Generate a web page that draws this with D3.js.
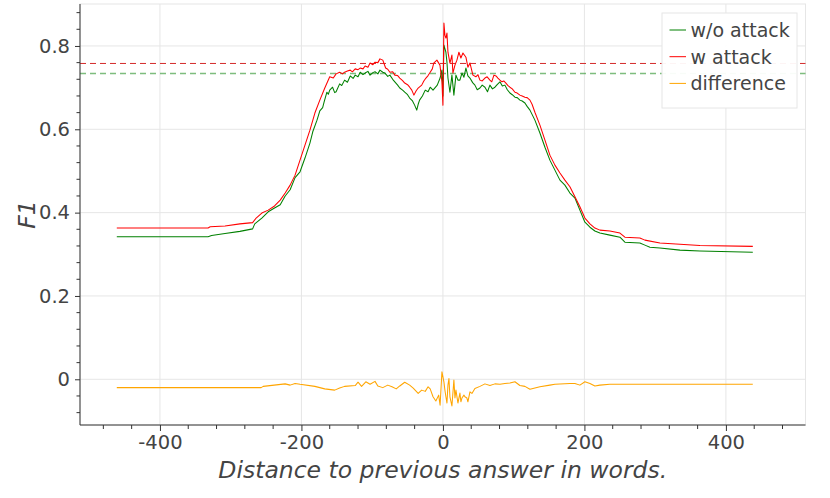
<!DOCTYPE html>
<html>
<head>
<meta charset="utf-8">
<script src="https://cdn.jsdelivr.net/npm/d3@7"></script>
<style>
  html, body { margin: 0; padding: 0; background: #fff; }
  svg { display: block; }
</style>
</head>
<body>
<svg id="chart" width="830" height="498"></svg>
<script>
// ---------------- DATA ----------------
const seriesNames = ["w/o attack", "w attack", "difference"];
const seriesColors = ["#008000", "#ff0000", "#ffa500"];
const xTicks = [-400, -200, 0, 200, 400];
const yTicks = [0, 0.2, 0.4, 0.6, 0.8];
const xLabel = "Distance to previous answer in words.";
const yLabel = "F1";
const meanNoAttack = 0.734;
const meanAttack = 0.758;

// [distance in words, F1]
const noAttack = [
  [-461,0.342],[-332,0.342],[-327,0.345],[-308,0.350],[-287,0.355],[-269,0.361],[-266,0.373],
  [-256,0.387],[-247,0.402],[-238,0.411],[-230,0.419],[-223,0.440],[-216,0.455],[-209,0.484],
  [-202,0.498],[-195,0.531],[-188,0.567],[-184,0.594],[-178,0.622],[-174,0.644],[-170,0.652],
  [-168,0.665],[-164,0.689],[-162,0.684],[-160,0.694],[-156,0.701],[-153,0.688],[-151,0.690],
  [-146,0.709],[-143,0.705],[-139,0.718],[-135,0.713],[-131,0.728],[-127,0.722],[-124,0.730],
  [-120,0.726],[-117,0.737],[-113,0.731],[-110,0.735],[-106,0.739],[-103,0.730],[-99,0.736],
  [-96,0.738],[-92,0.733],[-89,0.742],[-85,0.737],[-82,0.735],[-78,0.727],[-75,0.730],
  [-71,0.720],[-68,0.714],[-64,0.706],[-61,0.699],[-57,0.694],[-54,0.689],[-50,0.683],
  [-47,0.675],[-43,0.668],[-40,0.658],[-37,0.646],[-35,0.660],[-33,0.670],[-29,0.680],
  [-25,0.694],[-21,0.690],[-18,0.701],[-14,0.694],[-11,0.700],[-8,0.706],[-4,0.723],
  [-1.4,0.742],[0,0.680],[1.4,0.802],[4.2,0.785],[5.7,0.761],[7.1,0.723],[9.9,0.689],
  [12.7,0.730],[15.5,0.682],[18.4,0.730],[21.2,0.718],[24,0.718],[26.9,0.735],[29.7,0.725],
  [32.5,0.747],[35.3,0.728],[38.2,0.723],[42,0.712],[45.2,0.706],[48.5,0.695],[52.3,0.699],
  [55.5,0.706],[59.4,0.701],[63,0.690],[66.4,0.706],[70,0.697],[73.5,0.701],[77,0.708],
  [80.6,0.714],[84,0.704],[87.6,0.706],[91,0.695],[94.7,0.687],[98,0.683],[101.8,0.677],
  [105,0.676],[108.8,0.670],[112,0.668],[115.9,0.663],[119,0.655],[123,0.646],[130,0.622],
  [137.1,0.591],[144.2,0.557],[151.2,0.526],[158.3,0.502],[165.4,0.478],[172.4,0.466],
  [179.5,0.447],[186.6,0.435],[193.6,0.406],[200.7,0.377],[207.8,0.365],[214.8,0.356],
  [221.9,0.351],[236,0.346],[250.2,0.341],[257.2,0.329],[278.4,0.327],[285.5,0.322],
  [292.6,0.317],[306.7,0.315],[335,0.310],[363.3,0.308],[438,0.305]
];

const withAttack = [
  [-461,0.363],[-332,0.363],[-329,0.366],[-308,0.368],[-287,0.373],[-269,0.376],[-264,0.387],
  [-256,0.399],[-247,0.406],[-238,0.416],[-230,0.430],[-223,0.447],[-216,0.466],[-209,0.490],
  [-202,0.526],[-195,0.562],[-188,0.598],[-181,0.639],[-174,0.670],[-167,0.699],[-160,0.726],
  [-155,0.723],[-151,0.733],[-146,0.737],[-142,0.733],[-139,0.737],[-135,0.740],[-131,0.742],
  [-128,0.738],[-124,0.745],[-120,0.743],[-117,0.747],[-113,0.745],[-110,0.752],[-106,0.749],
  [-103,0.759],[-99,0.755],[-96,0.761],[-92,0.760],[-89,0.769],[-85,0.766],[-81,0.747],
  [-78,0.744],[-75,0.737],[-71,0.738],[-68,0.730],[-64,0.729],[-61,0.723],[-57,0.717],
  [-54,0.711],[-50,0.707],[-47,0.701],[-44,0.694],[-41,0.682],[-38,0.692],[-35,0.699],
  [-30,0.706],[-27,0.716],[-24,0.723],[-21,0.729],[-18,0.737],[-15,0.745],[-13,0.759],
  [-8.5,0.766],[-4.2,0.754],[-1.4,0.714],[0,0.658],[1.4,0.855],[2.8,0.826],[4.2,0.819],
  [5.7,0.831],[7.1,0.785],[9.9,0.759],[12.7,0.778],[14.1,0.735],[17,0.754],[19.8,0.766],
  [22.6,0.785],[25.4,0.771],[28.3,0.783],[32.5,0.773],[35.3,0.749],[38.2,0.759],[42.4,0.730],
  [46.6,0.726],[49.5,0.731],[52.3,0.718],[55.5,0.716],[59.4,0.723],[62.5,0.726],[66.4,0.718],
  [69,0.714],[72.1,0.730],[75,0.728],[77.7,0.723],[80.6,0.718],[83.4,0.714],[86,0.716],
  [89,0.711],[92,0.705],[94.7,0.701],[98,0.697],[101.8,0.689],[105,0.687],[108.8,0.682],
  [112,0.680],[115.9,0.677],[119,0.676],[123,0.670],[126,0.660],[130,0.641],[137.1,0.610],
  [144.2,0.574],[151.2,0.538],[158.3,0.514],[165.4,0.495],[172.4,0.478],[179.5,0.462],
  [186.6,0.438],[193.6,0.414],[200.7,0.387],[207.8,0.373],[214.8,0.363],[221.9,0.358],
  [236,0.356],[250.2,0.351],[257.2,0.341],[278.4,0.339],[285.5,0.334],[306.7,0.327],
  [363.3,0.321],[438,0.319]
];

const difference = [
  [-461,-0.020],[-257,-0.020],[-254,-0.017],[-223,-0.011],[-216,-0.014],[-209,-0.010],[-202,-0.012],
  [-181,-0.017],[-167,-0.023],[-153,-0.026],[-146,-0.021],[-139,-0.017],[-124,-0.015],[-120,-0.007],
  [-115,-0.017],[-109,-0.006],[-103,-0.012],[-96,-0.005],[-92,-0.016],[-85,-0.020],[-78,-0.014],
  [-72,-0.018],[-66,-0.023],[-61,-0.016],[-54,-0.007],[-47,-0.014],[-42,-0.021],[-35,-0.034],
  [-30,-0.026],[-25,-0.029],[-21,-0.018],[-18,-0.023],[-14,-0.042],[-10,-0.052],[-6,-0.038],
  [-4,-0.062],[-1.4,0.018],[1.4,-0.006],[2.8,-0.026],[4.2,-0.042],[5.7,-0.057],[7.1,-0.014],
  [8.5,0.002],[9.9,-0.042],[12.7,-0.064],[15.5,-0.002],[17,-0.045],[18.4,-0.026],[21.2,-0.057],
  [24,-0.033],[25.4,-0.054],[26.9,-0.045],[29.7,-0.038],[31.1,-0.042],[33.9,-0.045],[35.3,-0.054],
  [38.2,-0.030],[41,-0.034],[45.2,-0.022],[52.3,-0.017],[59.4,-0.011],[66.4,-0.015],[73.5,-0.011],
  [80.6,-0.012],[87.6,-0.010],[94.7,-0.009],[101.8,-0.006],[108.8,-0.015],[115.9,-0.017],
  [123,-0.024],[137.1,-0.018],[151.2,-0.014],[158.3,-0.012],[179.5,-0.010],[186.6,-0.010],
  [193.6,-0.014],[200.7,-0.006],[207.8,-0.010],[214.8,-0.016],[221.9,-0.014],[236,-0.012],
  [438,-0.012]
];

// ---------------- LAYOUT ----------------
const plot = { left: 80, right: 805.5, top: 4, bottom: 425 };
const FONT = "'DejaVu Sans', 'Liberation Sans', Arial, sans-serif";
const TEXT = "#444444";
const GRID = "#e6e6e6";
const AXIS = "#333333";

const x = d3.scaleLinear().domain([-513, 512.5]).range([plot.left, plot.right]);
const y = d3.scaleLinear().domain([-0.1097, 0.9007]).range([plot.bottom, plot.top]);

const svg = d3.select("#chart");

// grid
const g = svg.append("g");
g.selectAll(".gx").data(xTicks).join("line")
  .attr("x1", d => x(d)).attr("x2", d => x(d))
  .attr("y1", plot.top).attr("y2", plot.bottom)
  .attr("stroke", GRID).attr("stroke-width", 1);
g.selectAll(".gy").data(yTicks).join("line")
  .attr("x1", plot.left).attr("x2", plot.right)
  .attr("y1", d => y(d)).attr("y2", d => y(d))
  .attr("stroke", GRID).attr("stroke-width", 1);
svg.append("rect")
  .attr("x", plot.left).attr("y", plot.top)
  .attr("width", plot.right - plot.left).attr("height", plot.bottom - plot.top)
  .attr("fill", "none").attr("stroke", GRID).attr("stroke-width", 1);

// mean dashed lines
svg.append("line")
  .attr("x1", plot.left).attr("x2", plot.right)
  .attr("y1", y(meanAttack)).attr("y2", y(meanAttack))
  .attr("stroke", "#d42a2a").attr("stroke-width", 1)
  .attr("stroke-dasharray", "6,4");
svg.append("line")
  .attr("x1", plot.left).attr("x2", plot.right)
  .attr("y1", y(meanNoAttack)).attr("y2", y(meanNoAttack))
  .attr("stroke", "#3a9a3a").attr("stroke-width", 1.4)
  .attr("stroke-dasharray", "6,4").attr("opacity", 0.65);

// lines
const line = d3.line().x(d => x(d[0])).y(d => y(d[1])).curve(d3.curveLinear);
[noAttack, withAttack, difference].forEach((data, i) => {
  svg.append("path").datum(data)
    .attr("d", line)
    .attr("fill", "none")
    .attr("stroke", seriesColors[i])
    .attr("stroke-width", 1.05)
    .attr("stroke-linejoin", "round");
});

// axes
const xMinor = d3.range(-480, 481, 40);
const yMinor = d3.range(-0.08, 0.881, 0.04);

const xAxisG = svg.append("g").attr("transform", `translate(0,${plot.bottom})`);
xAxisG.call(d3.axisBottom(x).tickValues(xTicks).tickSize(6).tickPadding(4).tickFormat(d3.format("d")));
xAxisG.select(".domain").attr("stroke", AXIS).attr("d", `M${plot.left},0H${plot.right}`);
xAxisG.selectAll(".tick line").attr("stroke", AXIS);
xAxisG.selectAll(".tick text")
  .attr("fill", TEXT).attr("font-family", FONT).attr("font-size", 19.5)
  .text(d => d < 0 ? "-" + Math.abs(d) : d);
xAxisG.selectAll(".minor").data(xMinor.filter(v => !xTicks.includes(v))).join("line")
  .attr("x1", d => x(d)).attr("x2", d => x(d)).attr("y1", 0).attr("y2", 4)
  .attr("stroke", AXIS);

const yAxisG = svg.append("g").attr("transform", `translate(${plot.left},0)`);
yAxisG.call(d3.axisLeft(y).tickValues(yTicks).tickSize(5).tickPadding(5)
  .tickFormat(d => d === 0 ? "0" : d3.format(".1f")(d)));
yAxisG.select(".domain").attr("stroke", AXIS).attr("d", `M0,${plot.top}V${plot.bottom}`);
yAxisG.selectAll(".tick line").attr("stroke", AXIS);
yAxisG.selectAll(".tick text")
  .attr("fill", TEXT).attr("font-family", FONT).attr("font-size", 19.5);
yAxisG.selectAll(".minor").data(yMinor.filter(v => !yTicks.some(t => Math.abs(t - v) < 1e-6))).join("line")
  .attr("x1", -3.5).attr("x2", 0).attr("y1", d => y(d)).attr("y2", d => y(d))
  .attr("stroke", AXIS);

// axis titles
svg.append("text")
  .attr("x", (plot.left + plot.right) / 2).attr("y", 478)
  .attr("text-anchor", "middle")
  .attr("font-family", FONT).attr("font-size", 23.5).attr("font-style", "italic")
  .attr("fill", TEXT).text(xLabel);
svg.append("text")
  .attr("transform", `translate(35,${(plot.top + plot.bottom) / 2}) rotate(-90)`)
  .attr("text-anchor", "middle")
  .attr("font-family", FONT).attr("font-size", 23.5).attr("font-style", "italic")
  .attr("fill", TEXT).text(yLabel);

// legend
const lg = svg.append("g");
lg.append("rect")
  .attr("x", 662).attr("y", 13).attr("width", 135).attr("height", 95)
  .attr("fill", "#fff").attr("fill-opacity", 0.95)
  .attr("stroke", GRID).attr("stroke-width", 1);
seriesNames.forEach((name, i) => {
  const cy = 30 + i * 26.7;
  lg.append("line")
    .attr("x1", 669.5).attr("x2", 686).attr("y1", cy).attr("y2", cy)
    .attr("stroke", seriesColors[i]).attr("stroke-width", 1);
  lg.append("text")
    .attr("x", 690.5).attr("y", cy + 7)
    .attr("font-family", FONT).attr("font-size", 19)
    .attr("fill", TEXT).text(name);
});
</script>
</body>
</html>
